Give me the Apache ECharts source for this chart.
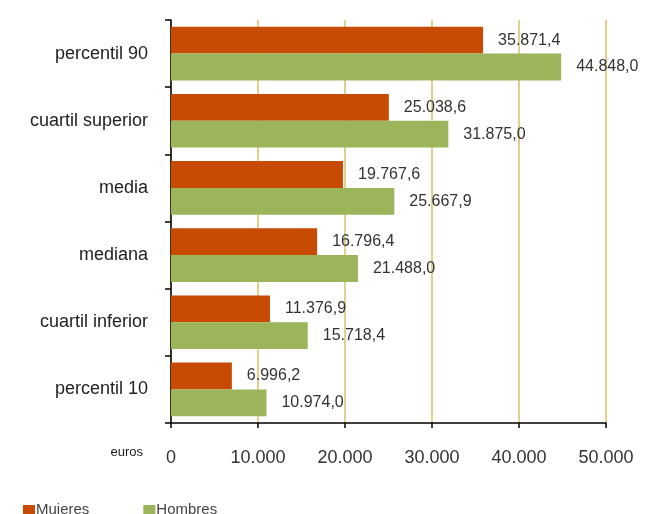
<!DOCTYPE html>
<html>
<head>
<meta charset="utf-8">
<script src="https://cdn.jsdelivr.net/npm/echarts@6/dist/echarts.min.js"></script>
<style>
html,body{margin:0;padding:0;background:#fff;}
#chart{width:646px;height:514px;}
</style>
</head>
<body>
<div id="chart"></div>
<script>
var categories = ['percentil 90', 'cuartil superior', 'media', 'mediana', 'cuartil inferior', 'percentil 10'];
var mujeres = [35871.4, 25038.6, 19767.6, 16796.4, 11376.9, 6996.2];
var hombres = [44848.0, 31875.0, 25667.9, 21488.0, 15718.4, 10974.0];
var seriesNames = ['Mujeres', 'Hombres'];
var axisName = 'euros';

function fmtThousands(n) {
  return String(n).replace(/\B(?=(\d{3})+(?!\d))/g, '.');
}
function fmtValue(v) {
  var s = v.toFixed(1).split('.');
  return fmtThousands(s[0]) + ',' + s[1];
}

var FONT = 'Liberation Sans, Arial, sans-serif';
var chart = echarts.init(document.getElementById('chart'), null, {renderer: 'canvas'});
var labelCfg = {
  show: true,
  position: 'right',
  distance: 15,
  fontFamily: FONT,
  fontSize: 16,
  color: '#333',
  formatter: function (p) { return fmtValue(p.value); }
};
chart.setOption({
  animation: false,
  backgroundColor: '#fff',
  grid: {left: 171, right: 40, top: 20, bottom: 91, containLabel: false},
  legend: {
    left: 18,
    top: 497,
    itemWidth: 12,
    itemHeight: 9,
    itemGap: 54,
    icon: 'rect',
    textStyle: {fontFamily: FONT, fontSize: 15, color: '#444', padding: [0, 0, 0, -4]},
    data: seriesNames
  },
  xAxis: {
    type: 'value',
    min: 0,
    max: 50000,
    interval: 10000,
    name: axisName,
    nameLocation: 'start',
    nameGap: 28,
    nameTextStyle: {fontFamily: FONT, fontSize: 13, color: '#222', verticalAlign: 'top', padding: [23, 0, 0, 0]},
    axisLine: {show: true, lineStyle: {color: '#000', width: 1.5}},
    axisTick: {show: true, length: 5, lineStyle: {color: '#000', width: 1.5}},
    axisLabel: {
      margin: 26,
      fontFamily: FONT,
      fontSize: 18,
      color: '#333',
      formatter: function (v) { return fmtThousands(v); }
    },
    splitLine: {show: true, lineStyle: {color: '#e4cf8c', width: 2}}
  },
  yAxis: {
    type: 'category',
    inverse: true,
    data: categories,
    axisLine: {show: true, lineStyle: {color: '#000', width: 1.5}},
    axisTick: {show: true, length: 6, lineStyle: {color: '#000', width: 1.5}},
    axisLabel: {
      margin: 23,
      fontFamily: FONT,
      fontSize: 18,
      color: '#222'
    },
    splitLine: {show: false}
  },
  series: [
    {
      name: seriesNames[0],
      type: 'bar',
      data: mujeres,
      barGap: '0%',
      barCategoryGap: '20%',
      itemStyle: {color: '#c84b03'},
      label: labelCfg
    },
    {
      name: seriesNames[1],
      type: 'bar',
      data: hombres,
      barGap: '0%',
      barCategoryGap: '20%',
      itemStyle: {color: '#9cb55a'},
      label: labelCfg
    }
  ]
});
</script>
</body>
</html>
